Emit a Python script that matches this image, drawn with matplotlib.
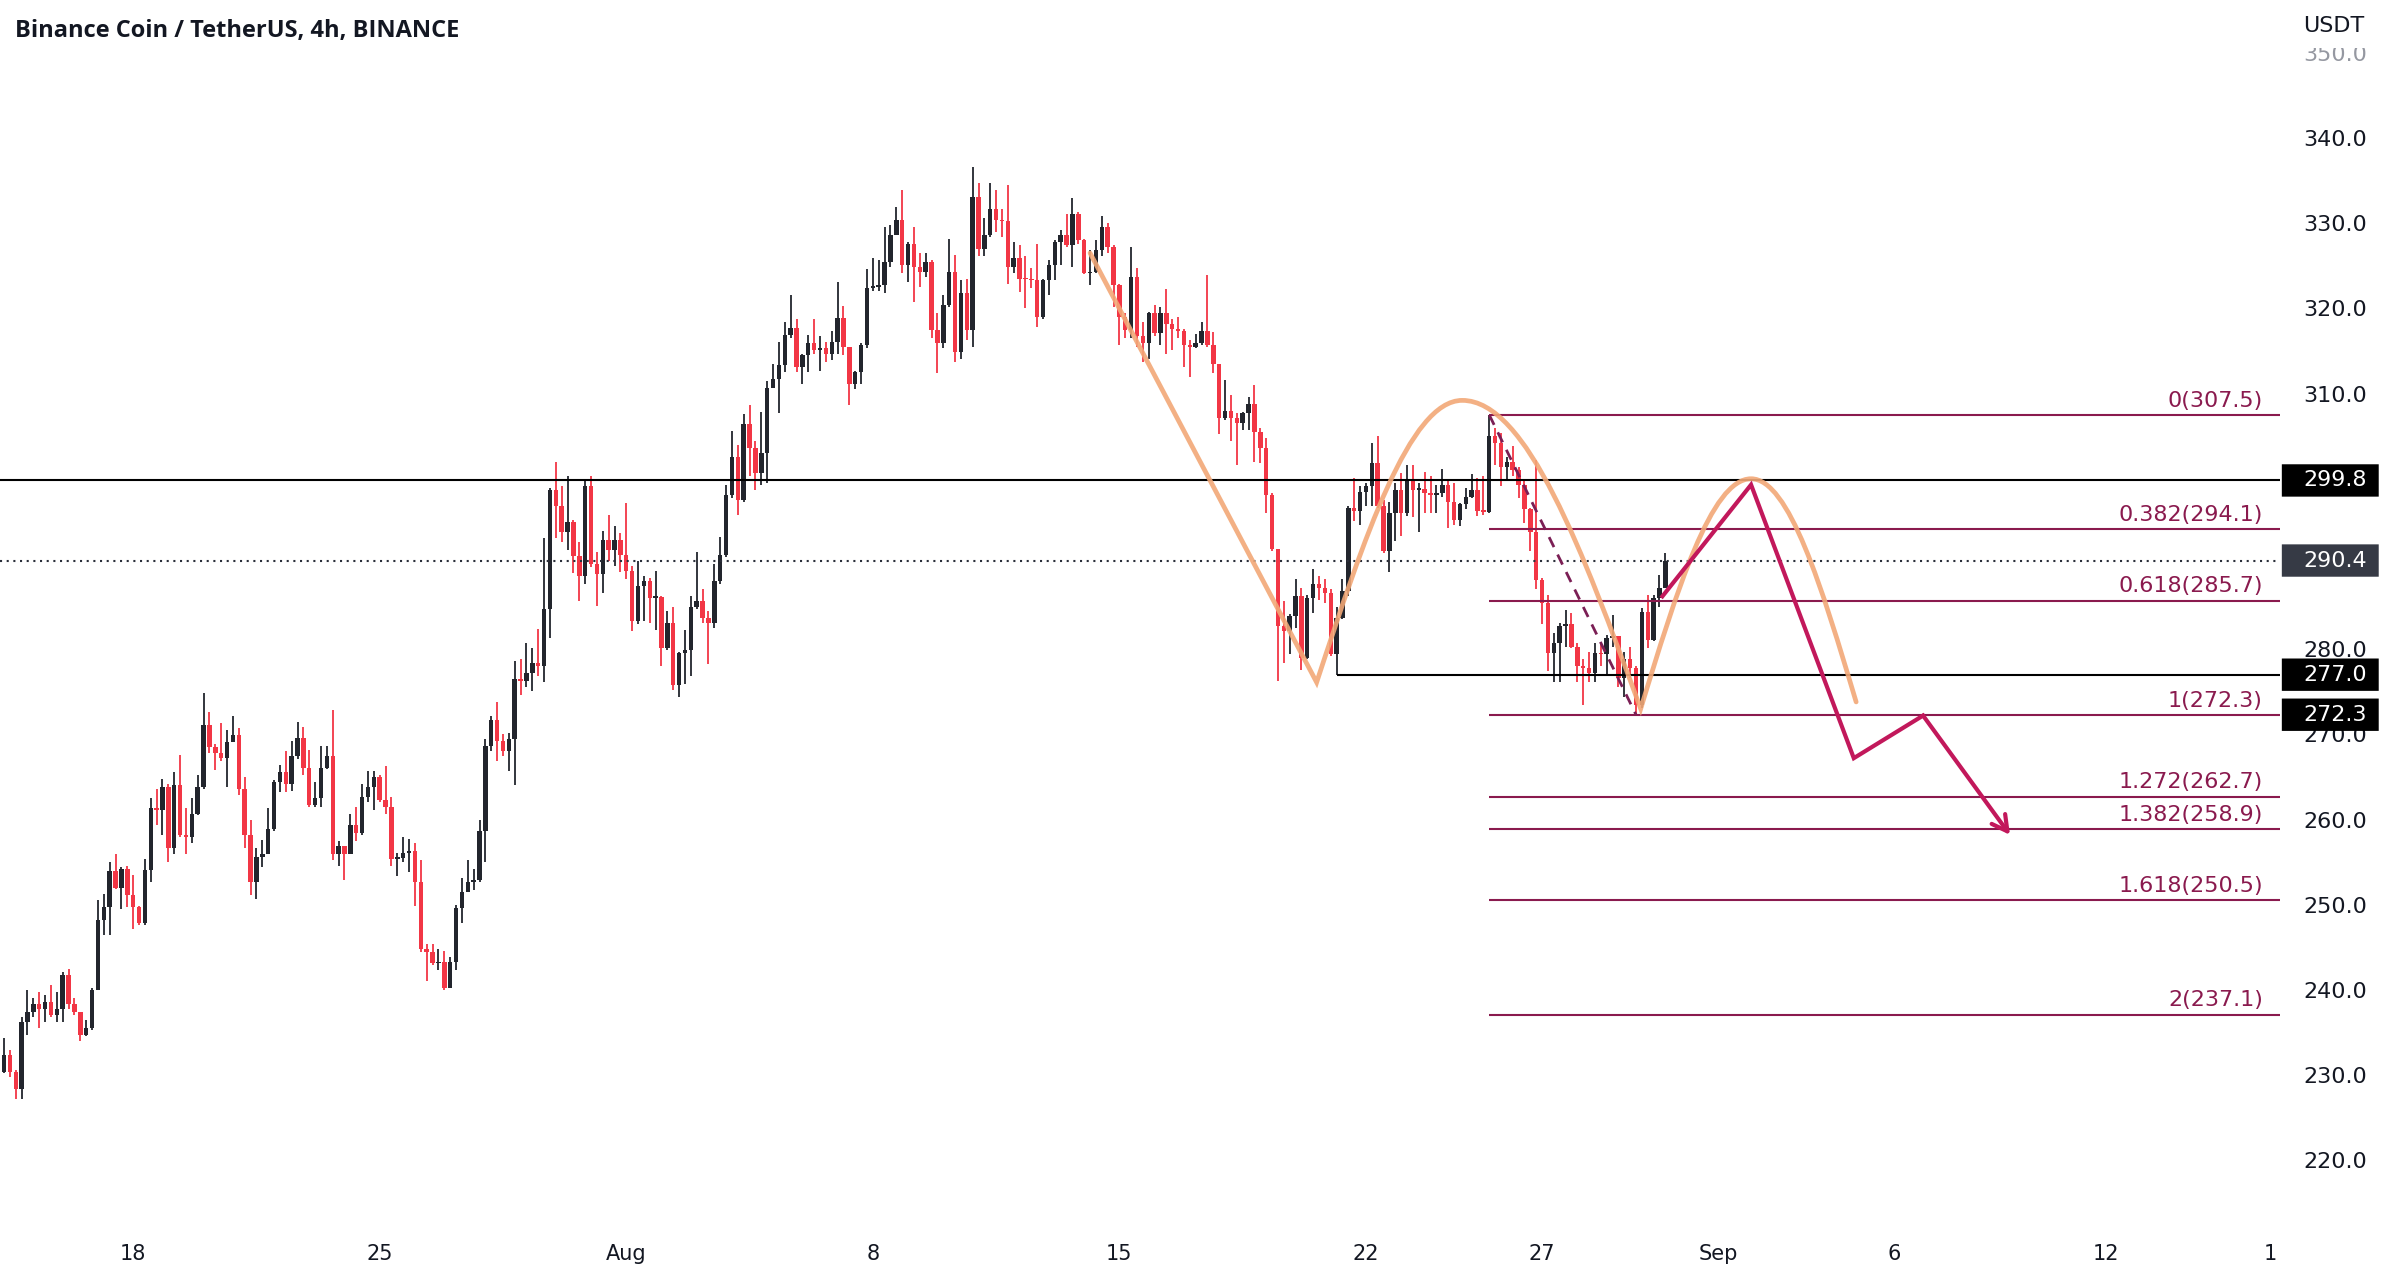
import numpy as np
import matplotlib
matplotlib.use("Agg")
import matplotlib.pyplot as plt
import matplotlib.transforms as mtransforms
from matplotlib.path import Path
from matplotlib.patches import PathPatch, FancyBboxPatch

# BNB/USDT 4h candles, Jul 14 04:00 -> Aug 30
first_open = 229.5
closes = [
    230.4, 232.3, 230.4, 228.4, 236.2, 237.4, 238.4, 237.8, 238.6, 237.0,
    237.8, 241.7, 238.4, 237.4, 234.7, 235.5, 240.0, 248.2, 249.7, 253.9,
    252.0, 254.2, 251.1, 249.7, 247.8, 254.1, 261.3, 261.1, 263.8, 256.6,
    264.0, 258.2, 258.0, 260.7, 263.8, 271.1, 268.5, 267.8, 267.2, 269.1,
    269.9, 263.6, 258.2, 252.7, 255.6, 256.0, 258.9, 264.4, 265.6, 264.2,
    267.5, 269.6, 266.1, 261.7, 262.5, 266.1, 267.5, 255.9, 256.9, 255.9,
    259.4, 258.4, 262.7, 263.8, 265.0, 262.3, 261.5, 255.4, 255.5, 256.1,
    256.3, 252.7, 244.8, 244.4, 243.1, 243.3, 240.2, 243.3, 249.6, 251.5,
    252.7, 252.9, 258.6, 268.6, 271.7, 269.2, 268.0, 269.4, 276.5, 276.3,
    277.2, 278.4, 278.0, 284.7, 298.7, 296.8, 293.7, 294.9, 290.9, 288.6,
    299.1, 290.0, 288.8, 292.8, 291.6, 292.8, 291.0, 289.2, 283.3, 287.4,
    288.0, 286.0, 286.1, 280.1, 283.1, 275.8, 279.5, 279.9, 285.0, 285.7,
    283.7, 283.1, 288.0, 291.0, 298.1, 302.5, 297.5, 306.4, 303.6, 300.7,
    303.0, 310.7, 311.7, 313.3, 316.9, 317.7, 313.1, 314.5, 315.9, 315.1,
    315.3, 314.7, 316.1, 318.9, 315.5, 311.1, 312.5, 315.7, 322.4, 322.5,
    322.7, 325.5, 328.6, 330.4, 325.1, 327.6, 324.9, 324.3, 325.5, 317.5,
    315.9, 320.4, 324.3, 314.9, 321.8, 317.5, 333.1, 327.0, 328.6, 331.7,
    330.4, 330.2, 324.9, 325.9, 323.5, 323.4, 323.3, 319.0, 323.3, 325.1,
    327.8, 328.6, 327.4, 331.1, 328.0, 324.1, 324.3, 326.9, 329.6, 327.2,
    322.7, 319.0, 317.5, 323.7, 316.7, 315.9, 319.4, 317.1, 319.4, 318.2,
    317.6, 317.4, 315.7, 315.5, 315.9, 317.4, 315.7, 313.5, 307.1, 307.9,
    307.1, 306.5, 307.7, 308.8, 305.5, 303.6, 298.1, 291.7, 282.7, 282.1,
    283.9, 286.2, 279.0, 286.0, 287.6, 287.2, 286.6, 279.4, 283.7, 286.8,
    296.6, 296.2, 298.5, 299.1, 301.8, 296.8, 291.5, 296.0, 298.7, 296.0,
    299.9, 298.7, 298.8, 298.3, 298.1, 298.3, 299.3, 297.3, 295.2, 297.0,
    297.9, 298.7, 296.2, 296.1, 305.0, 304.2, 301.4, 302.0, 301.0, 299.3,
    296.4, 293.8, 288.1, 285.4, 279.5, 280.7, 282.7, 282.9, 280.3, 278.0,
    277.8, 277.2, 279.5, 279.4, 281.3, 281.5, 276.6, 278.8, 277.8, 273.5,
    284.4, 281.1, 286.0, 287.2, 290.4,
]
highs = [
    231.0, 234.3, 232.9, 230.6, 236.8, 240.0, 239.0, 239.8, 239.4, 240.6,
    239.8, 242.1, 242.5, 239.0, 237.4, 236.5, 240.2, 250.5, 251.3, 255.0,
    256.0, 254.4, 254.6, 253.5, 249.9, 255.4, 262.5, 263.6, 264.8, 264.2,
    265.6, 267.6, 261.3, 262.5, 265.2, 274.8, 272.6, 268.9, 271.3, 270.5,
    272.1, 270.8, 265.0, 259.9, 256.6, 257.6, 261.3, 264.6, 266.4, 268.0,
    269.2, 271.5, 270.9, 268.2, 264.4, 268.6, 268.6, 272.8, 257.5, 256.9,
    260.7, 261.5, 264.2, 265.7, 265.7, 265.2, 266.3, 262.7, 256.1, 257.9,
    257.7, 257.3, 255.2, 245.4, 245.4, 244.8, 244.6, 243.9, 250.0, 253.1,
    255.2, 254.2, 260.0, 269.4, 272.1, 273.8, 270.0, 270.2, 278.6, 278.8,
    280.7, 280.1, 282.4, 293.0, 298.9, 302.0, 299.1, 300.3, 295.1, 292.6,
    299.7, 300.3, 291.4, 293.9, 295.7, 294.5, 293.6, 297.1, 289.8, 290.4,
    288.6, 288.4, 289.2, 286.2, 284.5, 285.0, 279.7, 282.3, 286.2, 291.4,
    287.1, 284.5, 290.0, 293.2, 299.3, 305.6, 304.0, 307.6, 308.6, 304.4,
    307.8, 311.5, 313.5, 316.1, 318.4, 321.6, 318.8, 314.7, 316.9, 318.8,
    316.7, 316.1, 317.3, 323.1, 320.3, 315.5, 312.7, 315.9, 324.6, 325.9,
    325.7, 329.6, 329.8, 331.9, 333.9, 327.8, 329.6, 326.5, 326.5, 325.7,
    319.4, 321.6, 328.2, 326.3, 323.3, 323.5, 336.6, 334.7, 330.6, 334.7,
    333.9, 331.7, 334.5, 327.8, 327.4, 326.1, 324.7, 327.6, 323.5, 325.7,
    328.0, 329.2, 331.1, 332.9, 331.3, 328.2, 326.9, 328.0, 330.9, 330.0,
    327.4, 322.9, 319.4, 327.2, 324.7, 318.4, 319.6, 320.4, 320.2, 322.3,
    318.8, 319.0, 317.6, 316.3, 317.0, 318.4, 323.9, 317.2, 313.5, 311.6,
    309.8, 307.7, 307.8, 309.6, 311.0, 305.9, 304.8, 298.3, 291.7, 285.6,
    284.1, 288.2, 287.2, 286.4, 289.4, 288.6, 288.2, 287.0, 284.9, 288.2,
    296.8, 300.1, 299.1, 299.5, 304.2, 305.0, 297.5, 297.3, 299.5, 300.7,
    301.6, 301.6, 299.5, 300.8, 300.3, 299.3, 301.2, 299.7, 299.5, 297.1,
    298.9, 300.5, 300.1, 300.3, 307.5, 306.0, 305.4, 302.6, 303.8, 301.4,
    299.9, 296.6, 302.2, 288.3, 286.4, 281.9, 283.1, 284.6, 284.2, 280.7,
    278.8, 279.7, 280.7, 280.7, 281.7, 284.0, 281.5, 279.7, 280.2, 278.0,
    284.8, 286.4, 286.4, 288.7, 291.3,
]
lows = [
    225.1, 230.2, 229.8, 227.2, 227.2, 234.7, 236.8, 235.5, 236.2, 236.8,
    236.2, 236.2, 237.8, 237.0, 234.0, 234.6, 235.3, 240.0, 246.4, 246.4,
    251.8, 249.5, 249.7, 247.2, 247.6, 247.6, 252.7, 259.3, 258.2, 255.0,
    256.0, 257.9, 256.0, 257.2, 260.5, 263.6, 267.8, 265.8, 266.9, 263.8,
    269.1, 262.9, 256.6, 251.1, 250.7, 254.4, 256.0, 258.7, 263.2, 263.2,
    263.4, 267.1, 265.2, 261.5, 261.5, 261.5, 265.9, 255.2, 254.6, 252.9,
    255.9, 257.5, 258.2, 262.1, 261.1, 262.1, 260.7, 254.6, 253.4, 255.0,
    253.8, 249.8, 244.4, 241.0, 242.9, 242.3, 240.0, 240.2, 242.3, 247.9,
    251.5, 251.7, 252.7, 255.0, 268.0, 266.9, 267.5, 265.7, 264.0, 274.6,
    275.5, 275.1, 276.9, 276.1, 281.3, 293.0, 292.6, 291.6, 288.9, 285.7,
    287.6, 289.6, 285.1, 286.6, 290.4, 289.8, 289.0, 288.2, 282.1, 282.9,
    283.3, 283.1, 282.3, 278.0, 279.9, 275.2, 274.4, 275.9, 276.8, 284.7,
    283.1, 278.2, 282.5, 287.6, 290.8, 297.7, 295.7, 297.3, 300.3, 298.7,
    299.3, 299.5, 310.7, 307.7, 312.5, 316.5, 312.5, 311.1, 312.5, 314.6,
    312.7, 313.7, 313.9, 314.7, 314.5, 308.6, 310.5, 311.1, 315.3, 322.0,
    322.0, 321.8, 324.9, 328.6, 324.1, 323.1, 320.8, 322.5, 323.7, 316.5,
    312.4, 315.3, 320.2, 313.7, 314.1, 316.3, 315.5, 326.1, 326.1, 328.4,
    329.0, 328.4, 322.9, 324.1, 321.9, 320.0, 322.4, 317.8, 318.8, 321.6,
    323.3, 325.1, 327.2, 324.9, 327.6, 324.0, 322.7, 324.1, 326.1, 326.5,
    320.2, 315.7, 316.5, 316.5, 315.5, 313.7, 314.0, 316.7, 315.7, 314.7,
    315.1, 316.5, 313.1, 312.0, 315.3, 315.7, 315.5, 312.4, 305.3, 306.9,
    304.4, 301.6, 305.7, 305.7, 302.0, 301.8, 296.0, 291.5, 276.3, 278.4,
    279.4, 282.5, 277.6, 278.8, 284.3, 285.8, 285.4, 279.2, 277.0, 283.5,
    286.2, 295.0, 294.6, 296.8, 296.8, 296.6, 291.3, 289.0, 292.7, 293.3,
    295.6, 295.5, 293.8, 296.0, 296.0, 296.0, 297.9, 294.2, 294.6, 294.4,
    296.4, 297.7, 295.6, 295.8, 296.0, 301.6, 299.1, 299.9, 300.3, 297.7,
    294.8, 291.5, 287.0, 282.9, 277.4, 276.2, 276.2, 280.3, 280.1, 276.2,
    273.5, 276.2, 276.2, 278.0, 276.9, 280.3, 275.6, 274.4, 276.6, 272.3,
    273.1, 280.1, 281.0, 285.0, 287.2,
]

# x axis: positions are candle numbers
xtick_pos = [23, 65, 107, 149, 191, 233, 263, 293, 323, 359, 387]
xtick_labels = ["18", "25", "Aug", "8", "15", "22", "27", "Sep", "6", "12", "1"]
x_range = (0.32, 388.7)
y_range = (212.4, 356.2)
# 290 and 300 sit under the price tags, so the scale leaves them out
ytick_values = [220, 230, 240, 250, 260, 270, 280, 310, 320, 330, 340, 350]

# drawings
resistance = 299.8
last_price = 290.4
support = 277.0
support_start = 228
fib_start = 254
fib_ratios = ["0", "0.382", "0.618", "1", "1.272", "1.382", "1.618", "2"]
fib_prices = [307.5, 294.1, 285.7, 272.3, 262.7, 258.9, 250.5, 237.1]
fib_trend_x = [254, 279]
fib_trend_y = [307.5, 272.3]
arc_x = [186.0, 224.6, 249.4, 279.8, 298.6, 316.5]
arc_y = [326.5, 276.1, 309.2, 273.0, 300.0, 273.8]
zigzag_x = [283.5, 298.6, 316.1, 327.9, 342.7]
zigzag_y = [286.2, 299.3, 267.2, 272.2, 258.2]
price_tags = [(299.8, "#000000"), (290.4, "#363a45"), (277.0, "#000000"), (272.3, "#000000")]

UP = "#22252d"
DOWN = "#f23645"
FIB = "#8a1a4e"
TXT = "#131722"

fig = plt.figure(figsize=(24.02, 12.78), dpi=100)
ax = fig.add_axes([0, 1 - 1225 / 1278, 2280 / 2402, 1225 / 1278])
ax.set_facecolor("white")
for s in ax.spines.values():
    s.set_visible(False)

closes = np.array(closes)
opens = np.r_[first_open, closes[:-1]]
x = np.arange(len(closes))
colors = np.where(closes >= opens, UP, DOWN)
ax.vlines(x, lows, highs, colors=colors, lw=1.3, zorder=2)
ax.bar(x, np.maximum(np.abs(closes - opens), 0.2), bottom=np.minimum(opens, closes),
       width=0.76, color=colors, linewidth=0, zorder=2)

xmax = x_range[1]
ax.axhline(resistance, color="black", lw=1.5, zorder=3)
ax.axhline(last_price, color="#2a2e39", lw=1.5, ls=(0, (1, 2.2)), zorder=3)
ax.hlines(support, support_start, xmax, color="black", lw=1.5, zorder=3)

# fib extension
ax.hlines(fib_prices, fib_start, xmax, color=FIB, lw=1.5, zorder=3)
blend = mtransforms.blended_transform_factory(ax.transAxes, ax.transData)
for r, p in zip(fib_ratios, fib_prices):
    ax.annotate(f"{r}({p})", xy=(0.9925, p), xycoords=blend, xytext=(0, 3),
                textcoords="offset points", ha="right", va="bottom",
                color=FIB, fontsize=16)
ax.plot(fib_trend_x, fib_trend_y, color="#7b1f55", lw=2, ls=(0, (4, 3)), zorder=3)


# orange arcs: a straight leg then quarter-sine bezier arches
def arch(p0, p1, rising):
    (x0, y0), (x1, y1) = p0, p1
    if rising:
        return [(x0 + 0.3261 * (x1 - x0), y0 + 0.5123 * (y1 - y0)),
                (x0 + 0.6381 * (x1 - x0), y1), (x1, y1)]
    return [(x1 + 0.6381 * (x0 - x1), y0),
            (x1 + 0.3261 * (x0 - x1), y1 + 0.5123 * (y0 - y1)), (x1, y1)]


pts = list(zip(arc_x, arc_y))
verts = [pts[0], pts[1]]
codes = [Path.MOVETO, Path.LINETO]
for i in range(1, len(pts) - 1):
    verts += arch(pts[i], pts[i + 1], rising=(i % 2 == 1))
    codes += [Path.CURVE4] * 3
ax.add_patch(PathPatch(Path(verts, codes), fill=False, ec="#f2a877", lw=3.4,
                       alpha=0.9, zorder=4, capstyle="round"))

# projected path
ax.plot(zigzag_x[:-1], zigzag_y[:-1], color="#c2185b", lw=3, zorder=5,
        solid_joinstyle="miter")
ax.annotate("", xy=(zigzag_x[-1], zigzag_y[-1]), xytext=(zigzag_x[-2], zigzag_y[-2]),
            arrowprops=dict(arrowstyle="->,head_length=1.1,head_width=0.6",
                            color="#c2185b", lw=3, shrinkA=0, shrinkB=0), zorder=5)

ax.set_xlim(*x_range)
ax.set_ylim(*y_range)
ax.yaxis.tick_right()
ax.set_yticks(ytick_values, [f"{v:.1f}" for v in ytick_values])
ax.tick_params(axis="y", length=0, pad=16.5, labelsize=16, labelcolor=TXT)
ax.get_yticklabels()[-1].set_color("#9598a1")
ax.set_xticks(xtick_pos, xtick_labels)
ax.tick_params(axis="x", length=0, pad=14, labelsize=15, labelcolor=TXT)

# price tags on the scale
for p, c in price_tags:
    ax.add_patch(FancyBboxPatch((1.0008, p - 1.9), 0.0425, 3.8, transform=blend,
                                boxstyle="round,pad=0,rounding_size=0.002",
                                fc=c, ec="none", clip_on=False, zorder=6))
    ax.text(1.0101, p, f"{p:.1f}", transform=blend, color="white", fontsize=16,
            va="center", ha="left", zorder=7, clip_on=False)

ax.text(1.0101, 0.979, "USDT", transform=ax.transAxes, color=TXT, fontsize=16,
        va="center", ha="left", zorder=7,
        bbox=dict(boxstyle="square,pad=0.55", fc="white", ec="none"))

fig.text(15 / 2402, 1 - 31 / 1278, "Binance Coin / TetherUS, 4h, BINANCE",
         ha="left", va="center", fontsize=17, fontweight="bold",
         family="Open Sans", color=TXT)

fig.savefig("out.png", dpi=100, facecolor="white")
